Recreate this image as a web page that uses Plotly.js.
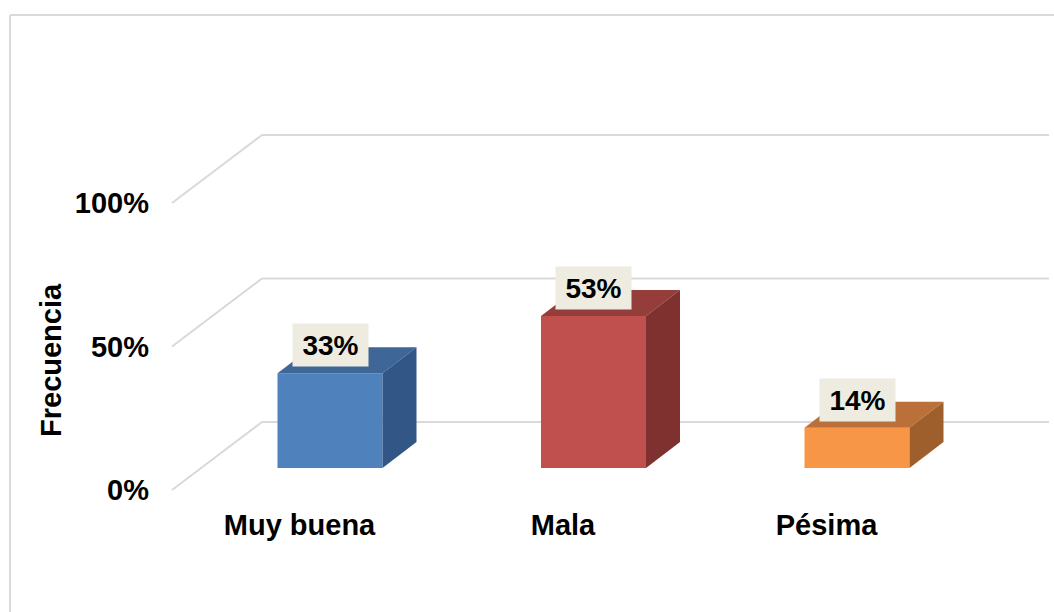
<!DOCTYPE html>
<html>
<head>
<meta charset="utf-8">
<script src="https://cdn.plot.ly/plotly-3.0.1.min.js"></script>
<style>
  html, body { margin: 0; padding: 0; background: #ffffff; }
  #chart { width: 1054px; height: 612px; }
</style>
</head>
<body>
<div id="chart"></div>
<script>
// ---- data ----
const categories = ['Muy buena', 'Mala', 'Pésima'];
const values = [33, 53, 14];
const valueLabels = ['33%', '53%', '14%'];
const yTickVals = [0, 50, 100];
const yTickText = ['0%', '50%', '100%'];
const frontColors = ['#4F81BD', '#C0504D', '#F79646'];
const topColors = ['#3E6697', '#953D3B', '#BA7038'];
const sideColors = ['#325786', '#7E312F', '#9F5F2D'];

// ---- geometry (pixel-based layout constants) ----
const W = 1054, H = 612;
const M = { l: 150, r: 5, t: 120, b: 107 };
const PX = 263.5;   // px per category
const X0 = 299.5;   // px of category 0 (front plane)
const PY = 2.87;    // px per percent
const Y0 = 490;     // px of 0% (front plane)
const xRange = [(M.l - X0) / PX, (W - M.r - X0) / PX];
const yRange = [-(H - M.b - Y0) / PY, (Y0 - M.t) / PY];

const gridLeftX = (172 - X0) / PX;
const floorDX = 90 / PX, floorDY = 68 / PY;     // full floor depth
const barShift = 30.5 / PX, barBase = (Y0 - 468) / PY;
const barW = 105 / PX;
const depthDX = 34 / PX, depthDY = 26 / PY;    // bar depth

const traces = [];

// front faces as a bar trace
traces.push({
  type: 'bar',
  x: categories.map((c, i) => i),
  y: values,
  base: barBase,
  width: barW,
  offset: barShift - barW / 2,
  marker: { color: frontColors, line: { width: 0 } },
  hoverinfo: 'skip', showlegend: false
});

// top and side faces
values.forEach((v, i) => {
  const xl = i + barShift - barW / 2, xr = i + barShift + barW / 2;
  const yb = barBase, yt = barBase + v;
  traces.push({
    type: 'scatter', mode: 'lines', fill: 'toself', hoverinfo: 'skip', showlegend: false,
    x: [xl, xr, xr + depthDX, xl + depthDX, xl],
    y: [yt, yt, yt + depthDY, yt + depthDY, yt],
    fillcolor: topColors[i], line: { width: 0, color: topColors[i] }
  });
  traces.push({
    type: 'scatter', mode: 'lines', fill: 'toself', hoverinfo: 'skip', showlegend: false,
    x: [xr, xr + depthDX, xr + depthDX, xr, xr],
    y: [yb, yb + depthDY, yt + depthDY, yt, yb],
    fillcolor: sideColors[i], line: { width: 0, color: sideColors[i] }
  });
});

const FONT = 'Liberation Sans, Arial, sans-serif';
const annotations = values.map((v, i) => ({
  x: i + barShift, y: barBase + v, xref: 'x', yref: 'y',
  yshift: 28, xanchor: 'center', yanchor: 'middle',
  text: valueLabels[i], showarrow: false,
  font: { family: FONT, size: 28, color: '#000000', weight: 'bold' },
  bgcolor: '#EEECE1', borderpad: 4, width: 67, height: 34
}));
const plotW = W - M.l - M.r;
const plotH = H - M.t - M.b;
annotations.push({
  xref: 'paper', yref: 'paper',
  x: (51 - M.l) / plotW, y: 1 - (360 - M.t) / plotH,
  xanchor: 'center', yanchor: 'middle', textangle: -90,
  text: 'Frecuencia', showarrow: false,
  font: { family: FONT, size: 29, color: '#000000', weight: 'bold' }
});

// gridlines (front-left diagonal + back wall line), drawn below the traces
const shapes = [];
yTickVals.forEach(v => {
  shapes.push({ type: 'line', xref: 'x', yref: 'y', layer: 'below',
    x0: gridLeftX, y0: v, x1: gridLeftX + floorDX, y1: v + floorDY,
    line: { color: '#D9D9D9', width: 2 } });
  shapes.push({ type: 'line', xref: 'x', yref: 'y', layer: 'below',
    x0: gridLeftX + floorDX, y0: v + floorDY, x1: xRange[1], y1: v + floorDY,
    line: { color: '#D9D9D9', width: 2 } });
});
// chart frame (top and left edges)
const frameTop = 1 + (M.t - 15) / plotH;
const frameLeft = (10 - M.l) / plotW;
shapes.push({ type: 'line', xref: 'paper', yref: 'paper',
  x0: frameLeft, x1: 1.2, y0: frameTop, y1: frameTop,
  line: { color: '#D9D9D9', width: 2 } });
shapes.push({ type: 'line', xref: 'paper', yref: 'paper',
  x0: frameLeft, x1: frameLeft, y0: frameTop, y1: -0.5,
  line: { color: '#D9D9D9', width: 2 } });

const layout = {
  width: W, height: H,
  margin: M,
  paper_bgcolor: '#ffffff', plot_bgcolor: 'rgba(0,0,0,0)',
  showlegend: false, hovermode: false, barmode: 'overlay',
  font: { family: FONT, color: '#000000' },
  xaxis: {
    range: xRange, showgrid: false, zeroline: false, showline: false,
    tickmode: 'array', tickvals: categories.map((c, i) => i), ticktext: categories,
    ticks: '', ticklen: 0,
    tickfont: { family: FONT, size: 29, color: '#000000', weight: 'bold' },
    fixedrange: true
  },
  yaxis: {
    range: yRange, showgrid: false, zeroline: false, showline: false,
    tickmode: 'array', tickvals: yTickVals, ticktext: yTickText,
    ticks: '', ticklen: 0,
    tickfont: { family: FONT, size: 29, color: '#000000', weight: 'bold' },
    fixedrange: true
  },
  annotations: annotations,
  shapes: shapes
};

Plotly.newPlot('chart', traces, layout, { staticPlot: true, displayModeBar: false });
</script>
</body>
</html>
